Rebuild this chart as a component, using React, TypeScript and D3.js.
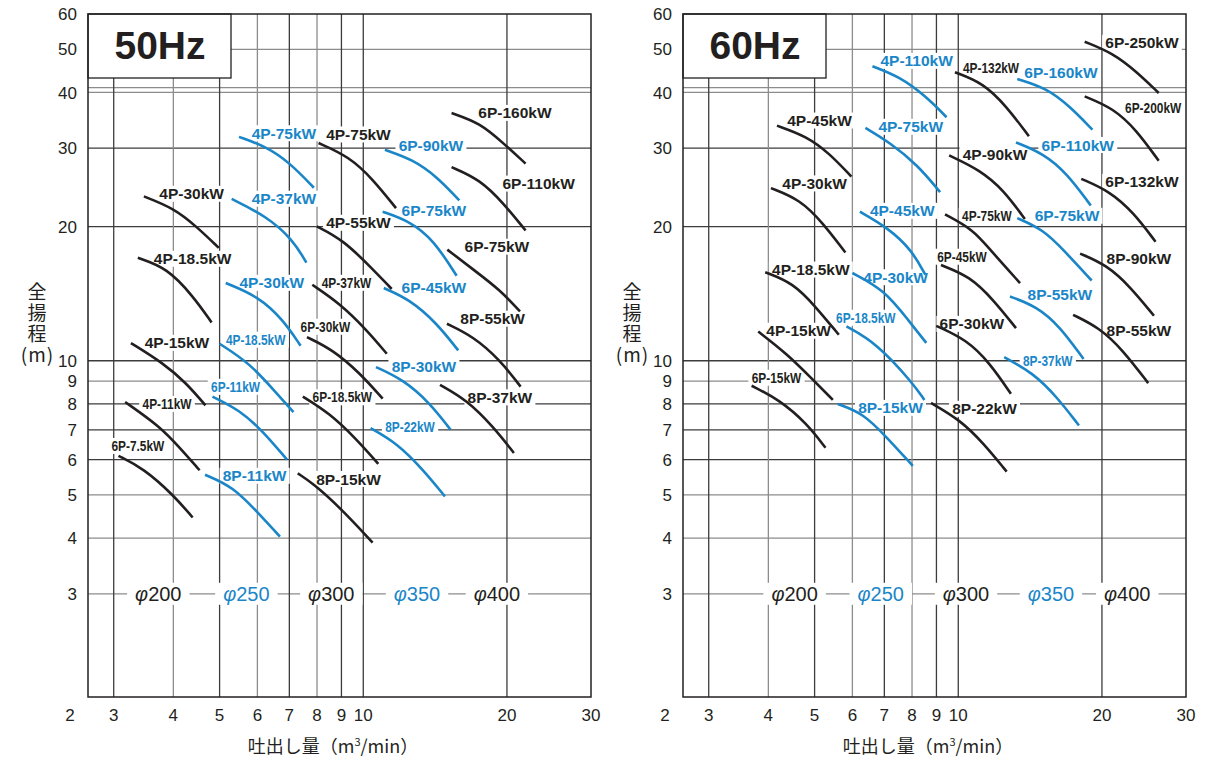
import React, { useEffect, useRef } from "react";
import * as d3 from "d3";

type Pt = [number, number];
type Curve = { name: string; dia: number; pts: Pt[]; label: Pt };

// ---------- data ----------
const xGridValues = [3, 4, 5, 6, 7, 8, 9, 10, 20];
const xTickValues = [3, 4, 5, 6, 7, 8, 9, 10, 20, 30];
const yTickValues = [60, 50, 40, 30, 20, 10, 9, 8, 7, 6, 5, 4, 3];
const yGridValues = [50, 41, 40, 30, 20, 10, 9, 8, 7, 6, 5, 4, 3];
const diameters = [200, 250, 300, 350, 400];
const diaLabelQ50 = [3.72, 5.69, 8.57, 12.96, 19.05];
const diaLabelQ60 = [4.54, 6.88, 10.38, 15.64, 22.6];

const curves50: Curve[] = [
  { name: "6P-7.5kW", dia: 200, pts: [[3.07, 6.12], [3.46, 5.74], [4.0, 5.0], [4.39, 4.45]], label: [3.37, 6.44] },
  { name: "4P-11kW", dia: 200, pts: [[3.17, 8.08], [3.75, 7.12], [4.13, 6.37], [4.54, 5.68]], label: [3.88, 8.0] },
  { name: "4P-15kW", dia: 200, pts: [[3.26, 10.96], [3.81, 9.88], [4.26, 8.91], [4.67, 7.94]], label: [4.07, 10.97] },
  { name: "4P-18.5kW", dia: 200, pts: [[3.37, 17.02], [3.88, 16.16], [4.4, 13.96], [4.81, 12.19]], label: [4.39, 16.94] },
  { name: "4P-30kW", dia: 200, pts: [[3.47, 23.38], [4.0, 22.02], [4.47, 20.03], [4.98, 17.92]], label: [4.37, 23.7] },
  { name: "4P-75kW", dia: 250, pts: [[5.49, 31.8], [6.28, 30.2], [7.02, 27.8], [7.88, 24.45]], label: [6.82, 32.4] },
  { name: "4P-37kW", dia: 250, pts: [[5.3, 23.08], [6.27, 21.1], [7.12, 18.7], [7.6, 16.6]], label: [6.82, 23.1] },
  { name: "4P-30kW", dia: 250, pts: [[5.15, 14.94], [6.03, 13.94], [6.79, 12.36], [7.39, 10.81]], label: [6.43, 14.96] },
  { name: "4P-18.5kW", dia: 250, pts: [[5.0, 10.92], [5.78, 9.88], [6.58, 8.46], [7.14, 7.67]], label: [5.95, 11.15] },
  { name: "6P-11kW", dia: 250, pts: [[4.83, 8.31], [5.5, 7.76], [6.17, 6.94], [6.92, 6.0]], label: [5.4, 8.74] },
  { name: "8P-11kW", dia: 250, pts: [[4.66, 5.55], [5.33, 5.22], [6.03, 4.55], [6.69, 4.03]], label: [5.92, 5.52] },
  { name: "4P-75kW", dia: 300, pts: [[8.06, 30.8], [9.35, 28.7], [10.49, 25.5], [11.71, 22.0]], label: [9.77, 32.2] },
  { name: "4P-55kW", dia: 300, pts: [[7.99, 20.03], [9.06, 18.7], [10.49, 16.02], [11.47, 14.49]], label: [9.77, 20.4] },
  { name: "4P-37kW", dia: 300, pts: [[7.82, 14.81], [8.91, 13.47], [10.16, 11.74], [11.2, 10.37]], label: [9.22, 14.96] },
  { name: "6P-30kW", dia: 300, pts: [[7.62, 11.3], [8.64, 10.58], [9.84, 9.38], [10.98, 8.22]], label: [8.33, 11.92] },
  { name: "6P-18.5kW", dia: 300, pts: [[7.47, 8.31], [8.49, 7.63], [9.64, 6.7], [10.75, 5.87]], label: [9.04, 8.28] },
  { name: "8P-15kW", dia: 300, pts: [[7.29, 5.59], [7.84, 5.31], [8.91, 4.7], [10.46, 3.91]], label: [9.31, 5.43] },
  { name: "6P-90kW", dia: 350, pts: [[11.1, 29.75], [12.73, 28.25], [14.25, 25.9], [15.89, 22.9]], label: [13.86, 30.5] },
  { name: "6P-75kW", dia: 350, pts: [[10.98, 21.6], [12.53, 20.55], [14.02, 18.7], [15.69, 15.52]], label: [14.06, 21.8] },
  { name: "6P-45kW", dia: 350, pts: [[11.04, 14.56], [12.53, 13.71], [14.25, 12.15], [15.81, 10.55]], label: [14.06, 14.6] },
  { name: "8P-30kW", dia: 350, pts: [[10.63, 9.68], [12.13, 9.07], [13.79, 8.04], [15.24, 7.0]], label: [13.4, 9.69] },
  { name: "8P-22kW", dia: 350, pts: [[10.36, 7.06], [11.75, 6.54], [13.36, 5.69], [14.83, 4.96]], label: [12.53, 7.11] },
  { name: "6P-160kW", dia: 400, pts: [[15.31, 35.97], [17.56, 34.17], [19.64, 30.8], [21.88, 27.7]], label: [20.78, 36.0] },
  { name: "6P-110kW", dia: 400, pts: [[15.31, 27.2], [17.56, 25.5], [19.64, 22.6], [21.88, 19.6]], label: [23.3, 24.98] },
  { name: "6P-75kW", dia: 400, pts: [[15.0, 17.76], [17.0, 16.02], [19.33, 14.43], [21.3, 12.9]], label: [19.05, 18.03] },
  { name: "8P-55kW", dia: 400, pts: [[14.97, 12.11], [17.0, 11.34], [19.33, 10.05], [21.36, 8.75]], label: [18.66, 12.43] },
  { name: "8P-37kW", dia: 400, pts: [[14.48, 8.83], [16.46, 8.17], [18.7, 7.12], [20.68, 6.21]], label: [19.33, 8.28] },
];

const curves60: Curve[] = [
  { name: "4P-110kW", dia: 250, pts: [[6.61, 45.8], [7.53, 43.4], [8.56, 39.2], [9.45, 35.2]], label: [8.18, 47.1] },
  { name: "4P-75kW", dia: 250, pts: [[6.39, 33.3], [7.18, 30.9], [8.22, 27.5], [9.16, 23.9]], label: [7.95, 33.5] },
  { name: "4P-45kW", dia: 200, pts: [[4.17, 33.7], [4.81, 31.9], [5.37, 29.2], [5.97, 25.9]], label: [5.12, 34.6] },
  { name: "4P-30kW", dia: 200, pts: [[4.05, 24.4], [4.66, 23.0], [5.2, 20.4], [5.8, 17.5]], label: [5.0, 25.0] },
  { name: "4P-45kW", dia: 250, pts: [[6.22, 21.6], [7.11, 19.9], [7.98, 17.76], [8.53, 15.6]], label: [7.63, 21.7] },
  { name: "4P-18.5kW", dia: 200, pts: [[3.94, 15.8], [4.51, 14.94], [5.02, 13.24], [5.62, 11.44]], label: [4.91, 16.02] },
  { name: "4P-30kW", dia: 250, pts: [[6.0, 15.74], [7.0, 14.43], [7.9, 12.24], [8.57, 10.97]], label: [7.39, 15.4] },
  { name: "6P-18.5kW", dia: 250, pts: [[5.83, 11.94], [6.74, 10.96], [8.03, 8.91], [8.49, 8.17]], label: [6.4, 12.49] },
  { name: "4P-15kW", dia: 200, pts: [[3.81, 11.63], [4.36, 10.4], [4.96, 9.07], [5.46, 8.17]], label: [4.63, 11.68] },
  { name: "6P-15kW", dia: 200, pts: [[3.69, 8.79], [4.22, 8.17], [4.81, 7.24], [5.27, 6.38]], label: [4.16, 9.16] },
  { name: "8P-15kW", dia: 250, pts: [[5.59, 8.0], [6.31, 7.63], [7.06, 6.76], [8.03, 5.81]], label: [7.21, 7.84] },
  { name: "4P-132kW", dia: 300, pts: [[9.84, 44.4], [11.28, 42.0], [12.63, 37.2], [14.06, 31.9]], label: [11.71, 45.4] },
  { name: "6P-160kW", dia: 350, pts: [[13.29, 42.9], [15.31, 40.9], [17.14, 37.2], [19.1, 33.0]], label: [16.41, 44.3] },
  { name: "6P-250kW", dia: 400, pts: [[18.4, 52.0], [21.1, 49.0], [23.6, 44.6], [26.3, 39.9]], label: [24.26, 51.7] },
  { name: "6P-200kW", dia: 400, pts: [[18.4, 39.2], [21.1, 36.9], [23.6, 33.0], [26.3, 28.1]], label: [25.6, 36.9] },
  { name: "6P-110kW", dia: 350, pts: [[13.21, 30.9], [15.06, 29.2], [16.87, 26.4], [18.95, 22.3]], label: [17.8, 30.5] },
  { name: "4P-90kW", dia: 300, pts: [[9.57, 28.9], [11.1, 26.8], [12.43, 24.2], [13.79, 20.8]], label: [11.94, 29.1] },
  { name: "6P-132kW", dia: 400, pts: [[18.1, 25.6], [20.78, 24.0], [23.3, 21.5], [25.9, 18.5]], label: [24.26, 25.2] },
  { name: "6P-75kW", dia: 350, pts: [[13.29, 20.9], [15.06, 19.69], [16.59, 17.76], [19.03, 15.14]], label: [16.9, 21.15] },
  { name: "4P-75kW", dia: 300, pts: [[9.38, 21.3], [10.75, 19.69], [11.65, 17.76], [13.47, 14.94]], label: [11.48, 21.15] },
  { name: "8P-90kW", dia: 400, pts: [[18.0, 17.4], [20.46, 16.4], [22.9, 14.68], [25.7, 12.62]], label: [23.9, 16.94] },
  { name: "6P-45kW", dia: 300, pts: [[9.2, 16.4], [10.58, 15.46], [11.84, 13.71], [13.21, 11.84]], label: [10.18, 17.12] },
  { name: "6P-30kW", dia: 300, pts: [[8.99, 11.98], [10.41, 11.15], [11.65, 9.88], [12.89, 8.43]], label: [10.68, 12.1] },
  { name: "8P-55kW", dia: 350, pts: [[12.83, 13.94], [14.6, 13.24], [16.33, 11.94], [18.3, 10.09]], label: [16.33, 14.06] },
  { name: "8P-55kW", dia: 400, pts: [[17.4, 12.68], [19.8, 11.84], [22.1, 10.58], [25.0, 8.91]], label: [23.9, 11.68] },
  { name: "8P-37kW", dia: 350, pts: [[12.48, 10.19], [14.36, 9.38], [16.07, 8.31], [17.9, 7.16]], label: [15.4, 10.0] },
  { name: "8P-22kW", dia: 300, pts: [[8.77, 8.04], [10.08, 7.37], [11.28, 6.54], [12.63, 5.64]], label: [11.35, 7.8] },
];

// ---------- styling / layout ----------
const BLUE = "#1a86c8";
const INK = "#231f20";
const FONT = "'Liberation Sans', Arial, Helvetica, sans-serif";
const CJK = "'Noto Sans CJK JP', 'Noto Sans CJK SC', sans-serif";
const TOP = 14;
const PW = 503;
const PH = 683;
const X_MIN = 2.65;
const X_MAX = 30;
const Y_MIN = 1.76;
const Y_MAX = 60;
const H_DARK = new Set([30, 20, 10, 8, 7, 6]);
const V_DARK = new Set([3, 5, 7, 9, 10, 20]);
const NARROW = new Set([
  "50:6P-7.5kW:200", "50:4P-11kW:200", "50:4P-18.5kW:250", "50:6P-11kW:250",
  "50:4P-37kW:300", "50:6P-30kW:300", "50:6P-18.5kW:300", "50:8P-22kW:350",
  "60:4P-132kW:300", "60:6P-200kW:400", "60:4P-75kW:300", "60:6P-45kW:300",
  "60:6P-18.5kW:250", "60:6P-15kW:200", "60:8P-37kW:350",
]);

const colorFor = (dia: number) => (dia === 250 || dia === 350 ? BLUE : INK);

type Panel = { hz: string; key: string; ox: number; curves: Curve[]; diaQ: number[] };

function drawPanel(svg: d3.Selection<SVGSVGElement, unknown, null, undefined>, p: Panel) {
  const g = svg.append("g").attr("transform", `translate(${p.ox},${TOP})`);
  const x = d3.scaleLog().domain([X_MIN, X_MAX]).range([0, PW]);
  const y = d3.scaleLog().domain([Y_MIN, Y_MAX]).range([PH, 0]);

  const grid = g.append("g");
  yGridValues.forEach((v) => {
    grid.append("line").attr("x1", 0).attr("x2", PW).attr("y1", y(v)).attr("y2", y(v))
      .attr("stroke", H_DARK.has(v) ? "#3c3c3c" : "#8c8c8c").attr("stroke-width", 1.3);
  });
  xGridValues.forEach((v) => {
    grid.append("line").attr("x1", x(v)).attr("x2", x(v)).attr("y1", 0).attr("y2", PH)
      .attr("stroke", V_DARK.has(v) ? "#3c3c3c" : "#8c8c8c").attr("stroke-width", 1.3);
  });

  // Hz box
  g.append("rect").attr("x", 0).attr("y", 0).attr("width", 143).attr("height", 64)
    .attr("fill", "#fff").attr("stroke", INK).attr("stroke-width", 1.3);
  g.append("text").attr("x", 72).attr("y", 45).attr("text-anchor", "middle")
    .attr("font-family", FONT).attr("font-weight", "bold").attr("font-size", 39)
    .attr("fill", INK).text(p.hz);

  const bgG = g.append("g");
  const curveG = g.append("g");
  const txtG = g.append("g");
  const line = d3.line<Pt>().x((d) => x(d[0])).y((d) => y(d[1])).curve(d3.curveBasis);

  p.curves.forEach((c) => {
    const col = colorFor(c.dia);
    curveG.append("path").attr("d", line(c.pts) || "").attr("fill", "none")
      .attr("stroke", col).attr("stroke-width", 2.6);
    const narrow = NARROW.has(`${p.key}:${c.name}:${c.dia}`);
    const sx = narrow ? 0.85 : 1;
    const lx = x(c.label[0]);
    const ly = y(c.label[1]);
    const t = txtG.append("text")
      .attr("transform", `translate(${lx},${ly}) scale(${sx},1)`)
      .attr("text-anchor", "middle").attr("dy", "0.36em")
      .attr("font-family", FONT).attr("font-weight", "bold")
      .attr("font-size", narrow ? 14 : 15.5).attr("fill", col).text(c.name);
    const bb = (t.node() as SVGTextElement).getBBox();
    const w = bb.width * sx + 6;
    bgG.append("rect").attr("x", lx - w / 2).attr("y", ly - 8).attr("width", w).attr("height", 16).attr("fill", "#fff");
  });

  // diameter labels
  const diaG = g.append("g");
  diameters.forEach((d, i) => {
    const gx = x(p.diaQ[i]);
    const gy = y(3);
    const t = diaG.append("text").attr("x", gx).attr("y", gy).attr("dy", "0.36em")
      .attr("text-anchor", "middle").attr("font-family", FONT).attr("font-size", 20)
      .attr("fill", colorFor(d));
    t.append("tspan").attr("font-style", "italic").text("φ");
    t.append("tspan").text(String(d));
    const bb = (t.node() as SVGTextElement).getBBox();
    diaG.insert("rect", () => t.node() as any).attr("x", bb.x - 8).attr("y", gy - 11)
      .attr("width", bb.width + 16).attr("height", 22).attr("fill", "#fff");
  });

  // border
  g.append("rect").attr("x", 0).attr("y", 0).attr("width", PW).attr("height", PH)
    .attr("fill", "none").attr("stroke", INK).attr("stroke-width", 1.5);

  // y ticks
  yTickValues.forEach((v) => {
    g.append("text").attr("x", -11).attr("y", y(v)).attr("dy", "0.36em").attr("text-anchor", "end")
      .attr("font-family", FONT).attr("font-size", 17).attr("fill", INK).text(String(v));
  });
  // x ticks
  g.append("text").attr("x", x(X_MIN) - 18).attr("y", PH + 24).attr("text-anchor", "middle")
    .attr("font-family", FONT).attr("font-size", 17).attr("fill", INK).text("2");
  xTickValues.forEach((v) => {
    g.append("text").attr("x", x(v)).attr("y", PH + 24).attr("text-anchor", "middle")
      .attr("font-family", FONT).attr("font-size", 17).attr("fill", INK).text(String(v));
  });

  // y title: vertical 全揚程 then (m)
  g.append("text").attr("x", -51).attr("y", 268)
    .attr("font-family", CJK).attr("font-size", 19).attr("fill", INK)
    .style("writing-mode", "vertical-rl").attr("letter-spacing", 2).text("全揚程");
  const mG = g.append("g").attr("font-family", CJK).attr("font-size", 19).attr("fill", INK);
  mG.append("text").attr("x", -64).attr("y", 348).attr("text-anchor", "middle").text("(");
  mG.append("text").attr("x", -51).attr("y", 348).attr("text-anchor", "middle").text("m");
  mG.append("text").attr("x", -38).attr("y", 348).attr("text-anchor", "middle").text(")");

  // x title
  const xt = g.append("text").attr("x", 245).attr("y", PH + 56).attr("text-anchor", "middle")
    .attr("font-family", CJK).attr("font-size", 18).attr("fill", INK);
  xt.append("tspan").text("吐出し量（m");
  xt.append("tspan").attr("font-size", 11).attr("dy", -7).text("3");
  xt.append("tspan").attr("dy", 7).text("/min）");
}

export default function App() {
  const ref = useRef<SVGSVGElement>(null);
  useEffect(() => {
    if (!ref.current) return;
    const svg = d3.select(ref.current);
    svg.selectAll("*").remove();
    svg.append("rect").attr("width", 1228).attr("height", 760).attr("fill", "#fff");
    const panels: Panel[] = [
      { hz: "50Hz", key: "50", ox: 88, curves: curves50, diaQ: diaLabelQ50 },
      { hz: "60Hz", key: "60", ox: 683, curves: curves60, diaQ: diaLabelQ60 },
    ];
    panels.forEach((p) => drawPanel(svg, p));
  }, []);
  return (
    <svg ref={ref} width={1228} height={760}
      style={{ position: "absolute", left: 0, top: 0, background: "#fff" }} />
  );
}
